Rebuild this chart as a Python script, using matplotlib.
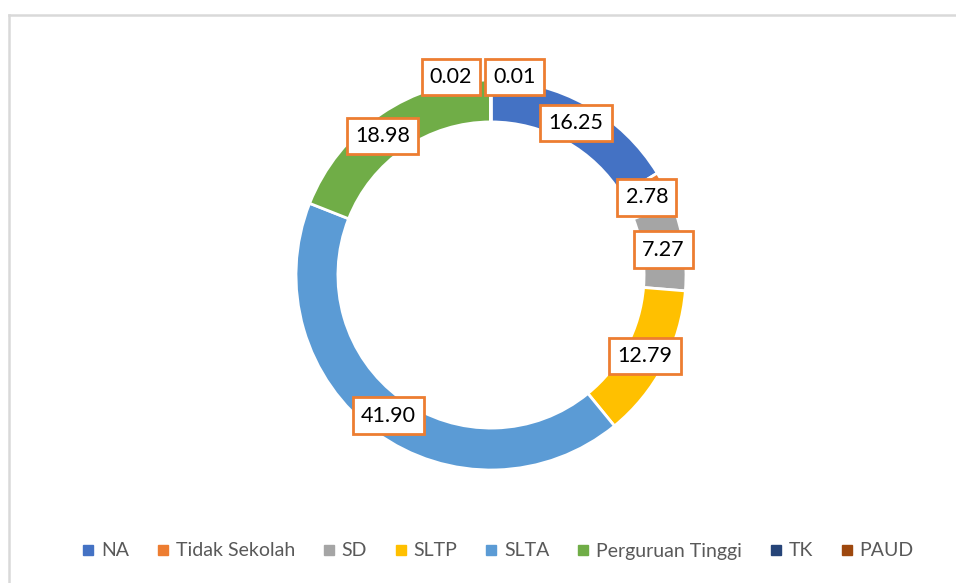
import matplotlib.pyplot as plt
import numpy as np
from matplotlib.lines import Line2D

# share per education level (%)
categories = ["NA", "Tidak Sekolah", "SD", "SLTP", "SLTA", "Perguruan Tinggi", "TK", "PAUD"]
values = [16.25, 2.78, 7.27, 12.79, 41.90, 18.98, 0.02, 0.01]
colors = ["#4472C4", "#ED7D31", "#A5A5A5", "#FFC000", "#5B9BD5", "#70AD47", "#264478", "#9E480E"]

plt.rcParams['font.family'] = ['Lato', 'DejaVu Sans']

fig = plt.figure(figsize=(9.56, 5.83), dpi=100)

# pie axes: centre at (491, 275) px, outer radius ~195 px
R = 195
lim = 1.25
side = 2 * lim * R
ax = fig.add_axes([(491 - side / 2) / 956, (583 - 275 - side / 2) / 583, side / 956, side / 583])

wedge_w = 0.215
wedges, _ = ax.pie(values, colors=colors, startangle=90, counterclock=False,
                   radius=1.0, wedgeprops=dict(width=wedge_w, edgecolor="white", linewidth=2))
ax.set_xlim(-lim, lim)
ax.set_ylim(-lim, lim)
ax.set_aspect("equal")
ax.axis("off")

# labels on the middle of the ring, tiny slices pushed apart at the top
r_mid = 1 - wedge_w / 2
cum = np.cumsum([0] + values[:-1])
total = sum(values)
nudges = {6: (-0.205, 1.015), 7: (0.12, 1.015), 5: (-0.055, -0.025)}
for i, v in enumerate(values):
    ang = np.deg2rad(90 - 360 * (cum[i] + v / 2) / total)
    x = r_mid * np.cos(ang)
    y = r_mid * np.sin(ang)
    if i in (6, 7):
        x, y = nudges[i]
    else:
        dx, dy = nudges.get(i, (0, 0))
        x, y = x + dx, y + dy
    ax.text(x, y, f"{v:.2f}", ha="center", va="center", fontsize=15.5, color="black",
            bbox=dict(boxstyle="square,pad=0.38", facecolor="white", edgecolor="#ED7D31", linewidth=2))

handles = [Line2D([], [], marker="s", linestyle="none", markersize=6.5,
                  markerfacecolor=c, markeredgecolor=c) for c in colors]
fig.legend(handles, categories, loc="center", bbox_to_anchor=(0.521, 1 - 551 / 583),
           ncol=len(categories), frameon=False, fontsize=14, labelcolor="#595959",
           handlelength=0.6, handletextpad=0.35, columnspacing=1.45)

# chart area frame (top and left visible)
fig.add_artist(Line2D([9 / 956, 9 / 956], [0, 1 - 15 / 583], color="#D9D9D9", linewidth=1.8))
fig.add_artist(Line2D([9 / 956, 1], [1 - 15 / 583, 1 - 15 / 583], color="#D9D9D9", linewidth=1.8))

fig.savefig("out.png", dpi=100)
